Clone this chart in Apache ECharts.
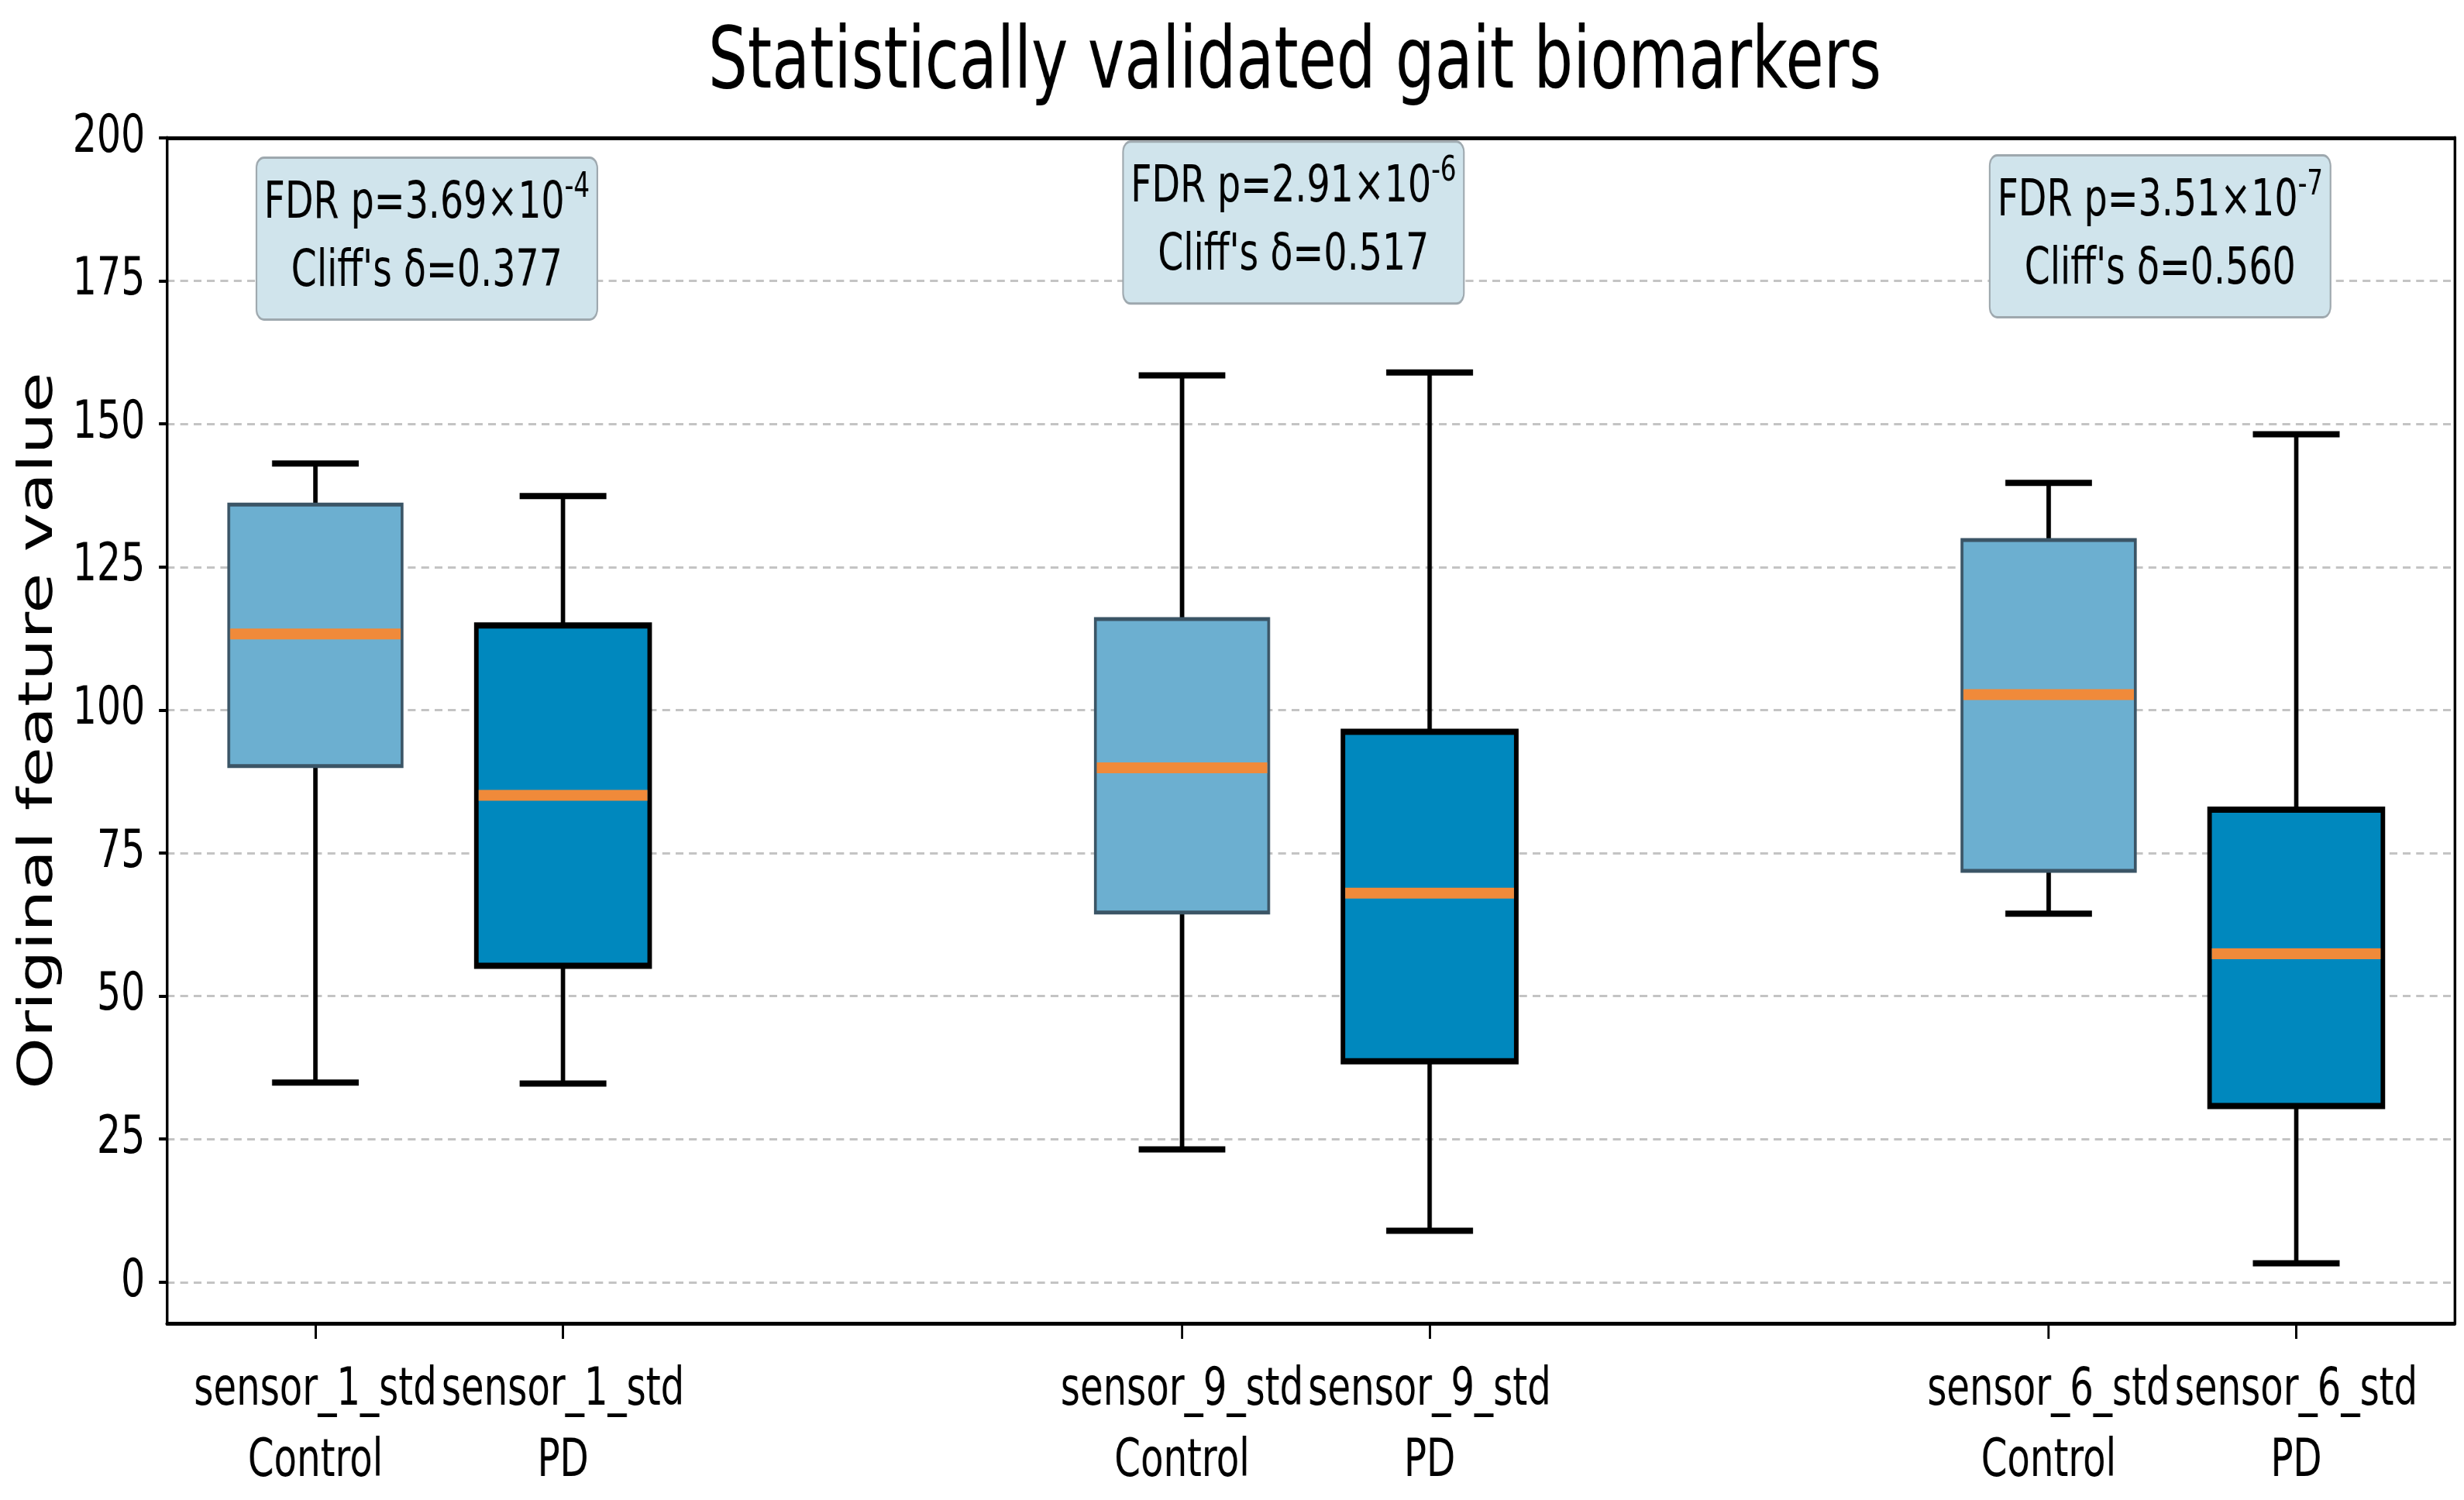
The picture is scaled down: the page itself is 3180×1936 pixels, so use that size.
<!DOCTYPE html>
<html>
<head>
<meta charset="utf-8">
<title>Statistically validated gait biomarkers</title>
<script src="https://cdn.jsdelivr.net/npm/echarts@6/dist/echarts.min.js"></script>
<style>
    html, body { margin: 0; padding: 0; background: #fff; overflow: hidden; }
    /* the source figure is squeezed horizontally, so draw wide and squeeze */
    #main { width: 4417px; height: 1936px; transform: scaleX(0.72); transform-origin: 0 0; }
</style>
</head>
<body>
<div id="main"></div>
<script>
var features = ['sensor_1_std', 'sensor_9_std', 'sensor_6_std'];
var groups = ['Control', 'PD'];

// box positions on the x axis
var positions = [1, 2, 4.5, 5.5, 8, 9];
var boxFeature = [0, 0, 1, 1, 2, 2];
var boxGroup = [0, 1, 0, 1, 0, 1];

var whiskerLow = [34.9, 34.7, 23.2, 9.0, 64.4, 3.3];
var q1 = [90.2, 55.3, 64.6, 38.6, 71.9, 30.8];
var median = [113.3, 85.1, 89.9, 68.0, 102.7, 57.4];
var q3 = [135.9, 114.8, 115.9, 96.2, 129.7, 82.6];
var whiskerHigh = [143.1, 137.4, 158.5, 159.0, 139.7, 148.2];

var yTicks = [0, 25, 50, 75, 100, 125, 150, 175, 200];

// stats annotations, one per feature
var annX = [1.45, 4.95, 8.45];
var annY = [182.4, 185.2, 182.8];
var fdrP = ['3.69', '2.91', '3.51'];
var fdrExp = ['-4', '-6', '-7'];
var cliffDelta = ['0.377', '0.517', '0.560'];

var FONT = 'DejaVu Sans';
var fillColors = ['#6cafd0', '#0088be'];
var edgeColors = ['#3b5566', '#000000'];

var chart = echarts.init(document.getElementById('main'));

var boxData = [];
for (var i = 0; i < positions.length; i++) {
    boxData.push([positions[i], whiskerLow[i], q1[i], median[i], q3[i], whiskerHigh[i], boxGroup[i]]);
}
var annData = [];
for (var j = 0; j < annX.length; j++) {
    annData.push([annX[j], annY[j], j]);
}

function xLabel(value) {
    for (var i = 0; i < positions.length; i++) {
        if (Math.abs(positions[i] - value) < 1e-6) {
            return features[boxFeature[i]] + '\n' + groups[boxGroup[i]];
        }
    }
    return '';
}

function renderBox(params, api) {
    var x = api.value(0);
    var lo = api.coord([x, api.value(1)]);
    var b1 = api.coord([x, api.value(2)]);
    var md = api.coord([x, api.value(3)]);
    var b3 = api.coord([x, api.value(4)]);
    var hi = api.coord([x, api.value(5)]);
    var g = api.value(6);
    var half = api.size([0.35, 0])[0];
    var cap = half / 2;
    var cx = lo[0];
    var edgeW = g === 1 ? 8 : 5;
    var wStyle = { stroke: '#000', lineWidth: 8 };
    return {
        type: 'group',
        children: [
            { type: 'line', shape: { x1: cx, y1: lo[1], x2: cx, y2: b1[1] }, style: wStyle },
            { type: 'line', shape: { x1: cx, y1: b3[1], x2: cx, y2: hi[1] }, style: wStyle },
            { type: 'line', shape: { x1: cx - cap, y1: lo[1], x2: cx + cap, y2: lo[1] }, style: wStyle },
            { type: 'line', shape: { x1: cx - cap, y1: hi[1], x2: cx + cap, y2: hi[1] }, style: wStyle },
            {
                type: 'rect',
                shape: { x: cx - half, y: b3[1], width: half * 2, height: b1[1] - b3[1] },
                style: { fill: fillColors[g], stroke: edgeColors[g], lineWidth: edgeW }
            },
            {
                type: 'line',
                shape: { x1: cx - half + edgeW / 2, y1: md[1], x2: cx + half - edgeW / 2, y2: md[1] },
                style: { stroke: '#f08a3a', lineWidth: 14 }
            }
        ]
    };
}

function renderNote(params, api) {
    var p = api.coord([api.value(0), api.value(1)]);
    var k = api.value(2);
    return {
        type: 'text',
        x: p[0],
        y: p[1],
        z2: 50,
        style: {
            text: '{m|FDR p=' + fdrP[k] + '×10}{s|' + fdrExp[k] + '}\n{m|Cliff\'s δ=' + cliffDelta[k] + '}',
            align: 'center',
            verticalAlign: 'middle',
            fill: '#000',
            fontFamily: FONT,
            backgroundColor: '#d0e4ec',
            borderColor: '#9ea8ae',
            borderWidth: 3,
            borderRadius: 12,
            padding: [15, 12],
            rich: {
                m: { fontSize: 66, lineHeight: 88, fontFamily: FONT, fill: '#000' },
                s: { fontSize: 45, fontFamily: FONT, verticalAlign: 'top', fill: '#000' }
            }
        }
    };
}

var frameLine = { show: true, onZero: false, lineStyle: { color: '#000', width: 5 } };

var option = {
    backgroundColor: '#ffffff',
    animation: false,
    title: {
        text: 'Statistically validated gait biomarkers',
        left: 2316,
        top: 24,
        textAlign: 'center',
        textStyle: { fontFamily: FONT, fontSize: 111, fontWeight: 'normal', color: '#000' }
    },
    grid: {
        left: 299,
        right: 17,
        top: 178,
        bottom: 228,
        show: false,
        containLabel: false
    },
    xAxis: [
        {
            type: 'value',
            min: 0.4,
            max: 9.64,
            position: 'bottom',
            axisLine: frameLine,
            axisTick: { show: true, length: 20, lineStyle: { color: '#000', width: 4 }, customValues: positions },
            axisLabel: {
                customValues: positions,
                formatter: xLabel,
                hideOverlap: false,
                fontFamily: FONT,
                fontSize: 67,
                lineHeight: 92,
                color: '#000',
                margin: 42
            },
            splitLine: { show: false }
        },
        {
            // top spine
            type: 'value',
            min: 0.4,
            max: 9.64,
            position: 'top',
            axisLine: frameLine,
            axisTick: { show: false },
            axisLabel: { show: false },
            splitLine: { show: false }
        }
    ],
    yAxis: [
        {
            type: 'value',
            min: -7.2,
            max: 200,
            position: 'left',
            name: 'Original feature value',
            nameLocation: 'middle',
            nameGap: 186,
            nameTextStyle: { fontFamily: FONT, fontSize: 85, color: '#000' },
            axisLine: frameLine,
            axisTick: { show: true, length: 14, lineStyle: { color: '#000', width: 4 }, customValues: yTicks },
            axisLabel: { customValues: yTicks, fontFamily: FONT, fontSize: 68, color: '#000', margin: 39 },
            splitLine: { show: true, lineStyle: { color: '#c4c4c4', width: 3, type: [14, 10] } }
        },
        {
            // right spine
            type: 'value',
            min: -7.2,
            max: 200,
            position: 'right',
            axisLine: frameLine,
            axisTick: { show: false },
            axisLabel: { show: false },
            splitLine: { show: false }
        }
    ],
    series: [
        {
            type: 'custom',
            name: 'boxes',
            renderItem: renderBox,
            encode: { x: 0, y: [1, 2, 3, 4, 5] },
            data: boxData,
            z: 3
        },
        {
            type: 'custom',
            name: 'stats',
            renderItem: renderNote,
            encode: { x: 0, y: 1 },
            data: annData,
            clip: false,
            z: 5
        }
    ]
};

chart.setOption(option);
</script>
</body>
</html>
